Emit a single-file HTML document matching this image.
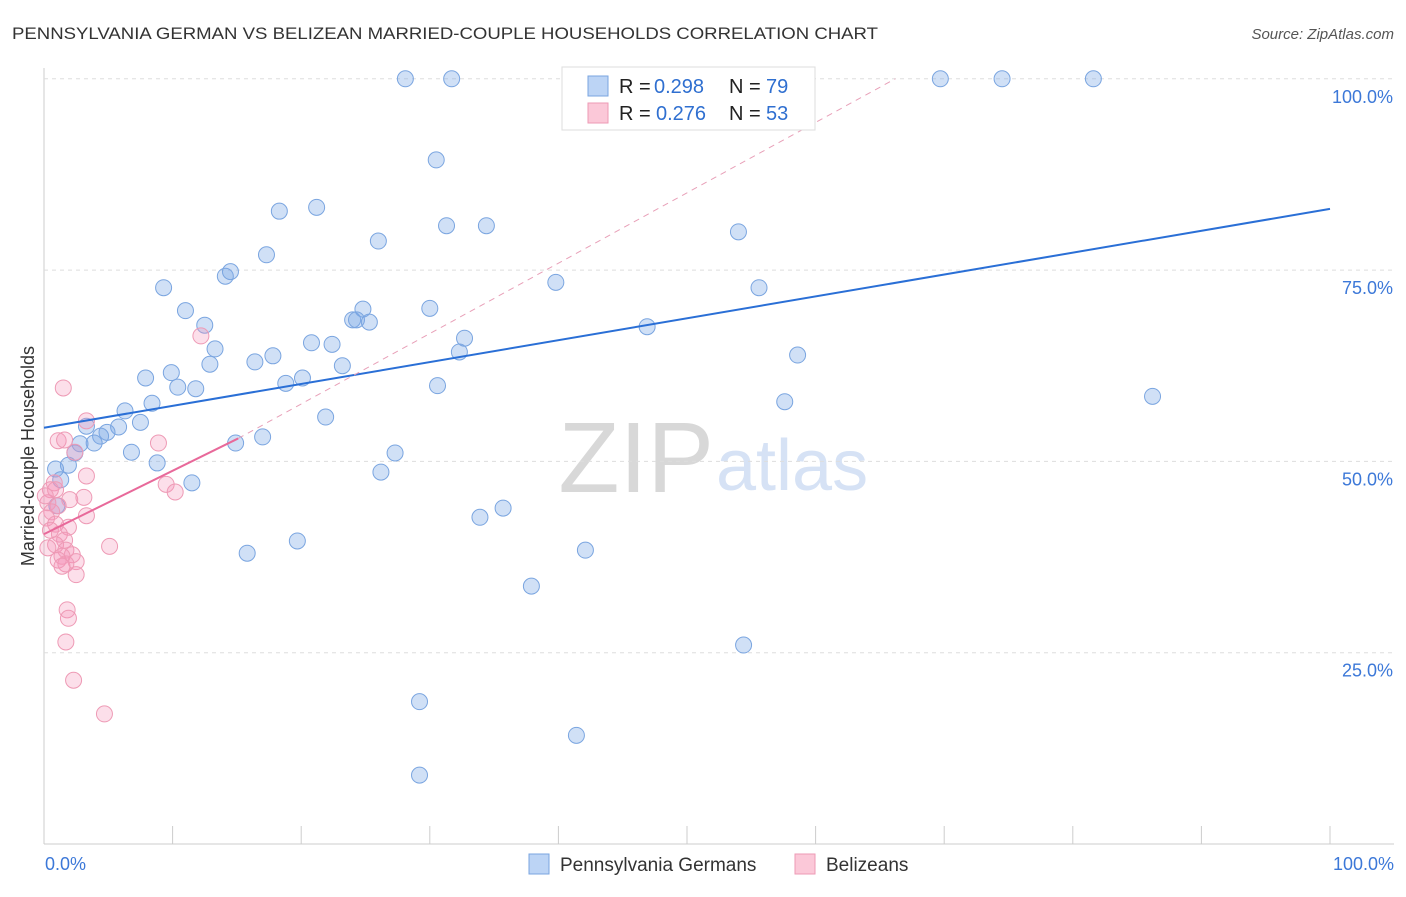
<!DOCTYPE html>
<html><head><meta charset="utf-8"><style>
body{margin:0;background:#fff;font-family:"Liberation Sans",sans-serif;}
svg text{font-family:"Liberation Sans",sans-serif;}
</style></head><body>
<svg id="c" width="1406" height="892">
<text x="12" y="39" font-size="17" fill="#333" textLength="866" lengthAdjust="spacingAndGlyphs">PENNSYLVANIA GERMAN VS BELIZEAN MARRIED-COUPLE HOUSEHOLDS CORRELATION CHART</text>
<text x="1394" y="39" font-size="15" fill="#555" font-style="italic" text-anchor="end">Source: ZipAtlas.com</text>
<text x="34" y="456" font-size="18" fill="#333" transform="rotate(-90 34 456)" text-anchor="middle">Married-couple Households</text>
<text x="714" y="492" font-size="100" fill="#d8d8d8" text-anchor="end" font-family="Liberation Serif">ZIP</text>
<text x="716" y="490" font-size="72" fill="#d6e2f5">atlas</text>
<g id="grid"></g><g id="pts"></g><g id="lines"></g>
<g>
<rect x="562" y="67" width="253" height="63" fill="#fff" stroke="#ddd"/>
<rect x="588" y="76" width="20" height="20" fill="#bcd4f5" stroke="#7aa5e0"/>
<text x="619" y="93" font-size="20" fill="#222">R = </text>
<text x="654" y="93" font-size="20" fill="#2f6fd0">0.298</text>
<text x="729" y="93" font-size="20" fill="#222">N = </text>
<text x="766" y="93" font-size="20" fill="#2f6fd0">79</text>
<rect x="588" y="103" width="20" height="20" fill="#fbc8d8" stroke="#ee9ab5"/>
<text x="619" y="120" font-size="20" fill="#222">R = </text>
<text x="656" y="120" font-size="20" fill="#2f6fd0">0.276</text>
<text x="729" y="120" font-size="20" fill="#222">N = </text>
<text x="766" y="120" font-size="20" fill="#2f6fd0">53</text>
</g>
<g>
<rect x="529" y="854" width="20" height="20" fill="#bcd4f5" stroke="#7aa5e0"/>
<text x="560" y="871" font-size="19" fill="#333">Pennsylvania Germans</text>
<rect x="795" y="854" width="20" height="20" fill="#fbc8d8" stroke="#ee9ab5"/>
<text x="826" y="871" font-size="19" fill="#333">Belizeans</text>
</g>
<text x="45" y="870" font-size="18" fill="#3c78d8">0.0%</text>
<text x="1394" y="870" font-size="18" fill="#3c78d8" text-anchor="end">100.0%</text>
</svg>
<script>
const blueX=[28.1,31.7,69.7,74.5,81.6,30.5,18.3,21.2,26.0,31.3,34.4,54.0,17.3,14.1,14.5,39.8,55.6,9.3,11.0,12.5,30.0,24.8,24.0,24.3,25.3,46.9,32.7,32.3,20.8,22.4,13.3,58.6,17.8,16.4,12.9,23.2,7.9,9.9,10.4,11.8,18.8,20.1,30.6,86.2,8.4,57.6,21.9,6.3,7.5,5.8,3.3,4.9,4.4,3.9,2.8,17.0,14.9,6.8,2.4,27.3,8.8,1.9,0.9,26.2,1.3,11.5,1.0,35.7,33.9,19.7,15.8,42.1,37.9,54.4,29.2,41.4,29.2];
const blueY=[100,100,100,100,100,89.4,82.7,83.2,78.8,80.8,80.8,80.0,77.0,74.2,74.8,73.4,72.7,72.7,69.7,67.8,70.0,69.9,68.5,68.5,68.2,67.6,66.1,64.3,65.5,65.3,64.7,63.9,63.8,63.0,62.7,62.5,60.9,61.6,59.7,59.5,60.2,60.9,59.9,58.5,57.6,57.8,55.8,56.6,55.1,54.5,54.6,53.8,53.3,52.4,52.3,53.2,52.4,51.2,51.1,51.1,49.8,49.5,49.0,48.6,47.6,47.2,44.2,43.9,42.7,39.6,38.0,38.4,33.7,26.0,18.6,14.2,9.0];
const pinkX=[1.5,12.2,3.3,1.1,1.6,8.9,2.4,3.3,0.8,9.5,10.2,0.5,0.9,3.1,2.0,0.3,1.1,3.3,0.6,0.2,0.9,1.9,0.5,1.2,1.6,0.9,0.3,5.1,1.7,2.2,1.4,1.1,2.5,1.7,1.4,2.5,1.8,1.9,1.7,2.3,4.7,0.1];
const pinkY=[59.6,66.4,55.3,52.7,52.8,52.4,51.2,48.1,47.2,47.0,46.0,46.3,46.3,45.3,45.0,44.6,44.2,42.9,43.4,42.6,41.8,41.4,41.0,40.5,39.7,39.1,38.7,38.9,38.4,37.8,37.6,37.1,36.9,36.6,36.3,35.2,30.6,29.5,26.4,21.4,17.0,45.5];
const blueLine=[54.4,83.0];
const pinkLine=[40.5,53.0];
const pinkLineEnd=[15.1];
const pinkDashEnd=[66.2,100];
const yTicks=[25,50,75,100];
const xTicks=[0,10,20,30,40,50,60,70,80,90,100];
const NS="http://www.w3.org/2000/svg";
const X=v=>44+v*12.86, Y=v=>844-v*7.652;
function mk(t,a,p){const e=document.createElementNS(NS,t);for(const k in a)e.setAttribute(k,a[k]);document.getElementById(p).appendChild(e);return e;}
const g='grid';
let ax=mk('line',{x1:44,y1:68,x2:44,y2:844,stroke:'#ccc'},g);


let bx=mk('line',{x1:44,y1:844,x2:1394,y2:844,stroke:'#ccc'},g);


yTicks.forEach(t=>{
 const l=mk('line',{x1:44,x2:1394,y1:Y(t),y2:Y(t),stroke:'#ddd','stroke-dasharray':'4,4'},g);
 
 
 const tx=mk('text',{x:1393,y:Y(t)+24,'font-size':18,fill:'#3c78d8','text-anchor':'end'},g);
 tx.textContent=t.toFixed(1)+'%';
 
 
});
xTicks.forEach(t=>{
 const l=mk('line',{x1:X(t),x2:X(t),y1:826,y2:844,stroke:'#ccc'},g);
 
 
});
blueX.forEach((v,i)=>{
 const c=mk('circle',{cx:X(v),cy:Y(blueY[i]),r:8,fill:'rgba(120,165,230,0.35)',stroke:'#7aa5e0','stroke-width':1},'pts');
 
 
});
pinkX.forEach((v,i)=>{
 const c=mk('circle',{cx:X(v),cy:Y(pinkY[i]),r:8,fill:'rgba(245,150,185,0.3)',stroke:'#ee9ab5','stroke-width':1},'pts');
 
 
});
let bl=mk('line',{x1:X(0),y1:Y(blueLine[0]),x2:X(100),y2:Y(blueLine[1]),stroke:'#2a6fd6','stroke-width':2},'lines');


let pd=mk('line',{x1:X(pinkLineEnd[0]),y1:Y(pinkLine[1]),x2:X(pinkDashEnd[0]),y2:Y(pinkDashEnd[1]),stroke:'#e8a0b8','stroke-width':1,'stroke-dasharray':'6,5'},'lines');


let pl=mk('line',{x1:X(0),y1:Y(pinkLine[0]),x2:X(pinkLineEnd[0]),y2:Y(pinkLine[1]),stroke:'#e8699a','stroke-width':2},'lines');


</script>
</body></html>
